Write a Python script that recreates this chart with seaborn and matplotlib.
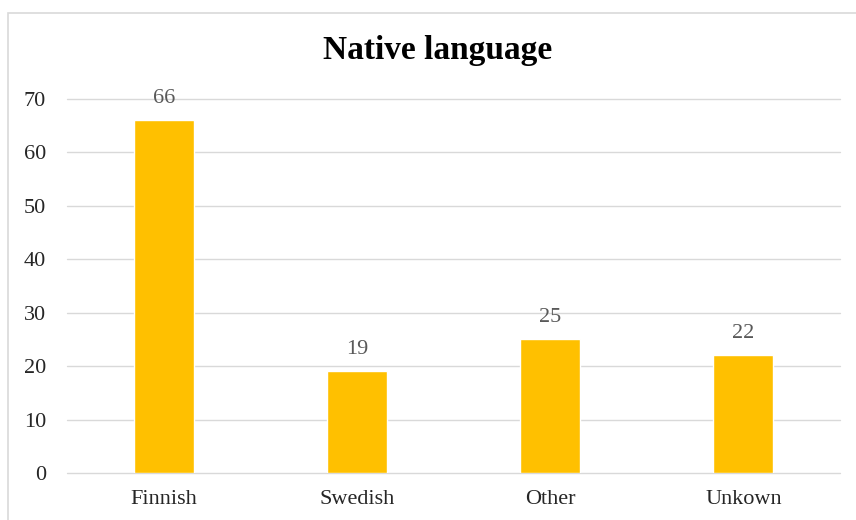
import matplotlib
matplotlib.use("Agg")
import matplotlib.pyplot as plt
from matplotlib.patches import Rectangle
import seaborn as sns
import pandas as pd

categories = ["Finnish", "Swedish", "Other", "Unkown"]
counts = [66, 19, 25, 22]
y_ticks = [0, 10, 20, 30, 40, 50, 60, 70]

sns.set_theme(style="white")
plt.rcParams["font.family"] = ["Liberation Serif", "DejaVu Serif"]

df = pd.DataFrame({"language": categories, "count": counts})

W, H = 856, 520
fig = plt.figure(figsize=(W / 100, H / 100), dpi=100)
fig.patch.set_facecolor("white")
ax = fig.add_axes([67 / W, 1 - 473 / H, (840 - 67) / W, (473 - 99) / H])

sns.barplot(data=df, x="language", y="count", color="#FFC000",
            width=0.31, saturation=1, ax=ax, zorder=3)

ax.set_ylim(0, 70)
ax.set_yticks(y_ticks)
ax.set_xlim(-0.5, len(categories) - 0.5)
ax.yaxis.grid(True, color="#D9D9D9", linewidth=1.0, zorder=0)
ax.xaxis.grid(False)
for gl in ax.get_ygridlines():
    gl.set_clip_on(False)
for s in ax.spines.values():
    s.set_visible(False)
ax.set_xlabel("")
ax.set_ylabel("")
ax.tick_params(axis="both", length=0, labelsize=16, labelcolor="#262626")
ax.tick_params(axis="y", pad=15)
ax.tick_params(axis="x", pad=12)

for i, v in enumerate(counts):
    ax.annotate(str(v), (i, v), xytext=(0, 16), textcoords="offset points",
                ha="center", va="center", fontsize=16, color="#595959")

fig.text(438 / W, 1 - 51 / H, "Native language", ha="center", va="center",
         fontsize=24, fontweight="bold", color="black")

# chart frame
fig.add_artist(Rectangle((8 / W, -0.05), 1.0, 1 - 13 / H + 0.05,
                         transform=fig.transFigure, fill=False,
                         edgecolor="#D9D9D9", linewidth=1.2))

fig.savefig("out.png", dpi=100, facecolor="white")
